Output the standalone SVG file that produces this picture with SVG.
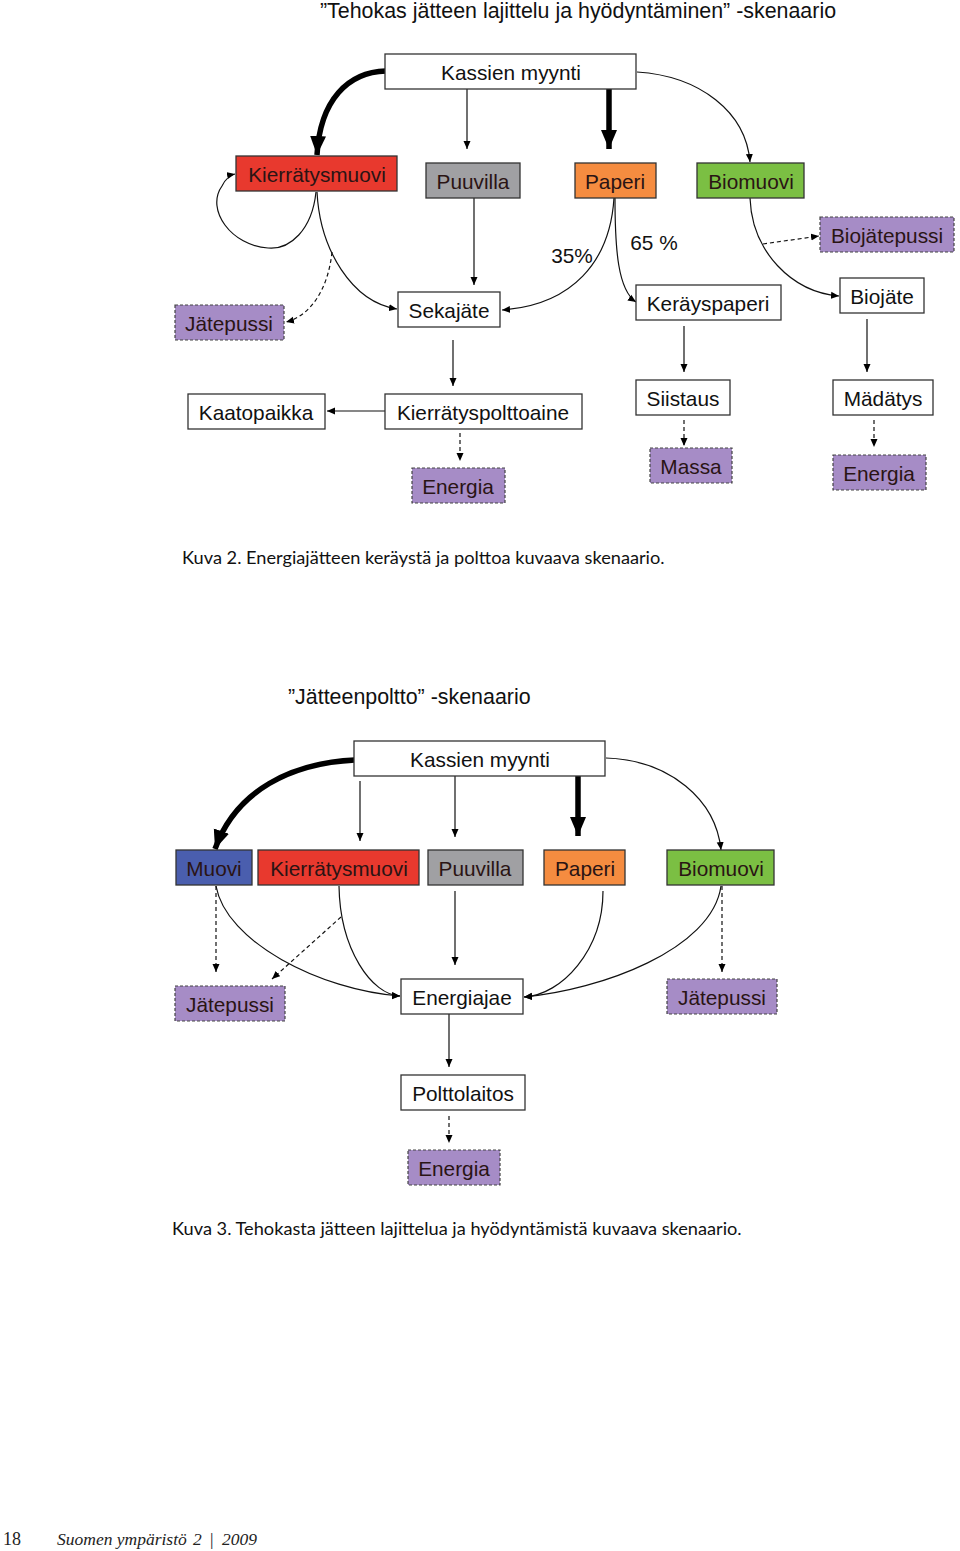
<svg xmlns="http://www.w3.org/2000/svg" width="960" height="1551" viewBox="0 0 960 1551">
<style>
.bg{fill:#ffffff}
.box{stroke:#333;stroke-width:1.3}
.w{fill:#ffffff}
.red{fill:#e8392e}
.gray{fill:#a0a0a3}
.org{fill:#f58c40}
.grn{fill:#7bbf43}
.blu{fill:#4a5eae}
.pur{fill:#a68cc6;stroke:#444;stroke-width:1.2;stroke-dasharray:3,2}
.t{font-family:"Liberation Sans",Arial,sans-serif;font-size:20.8px;fill:#111;text-anchor:middle}
.td{fill:#2a1414}
.ttl{font-family:"Liberation Sans",Arial,sans-serif;font-size:21.4px;fill:#111}
.cap{font-family:Lato,"Open Sans",sans-serif;font-size:18.2px;fill:#111}
.ft{font-family:"Liberation Serif",serif;font-size:18px;fill:#222}
.fi{font-family:"Liberation Serif",serif;font-size:17.5px;font-style:italic;fill:#222}
.c{fill:none;stroke:#111;stroke-width:1.2}
.d{fill:none;stroke:#111;stroke-width:1.2;stroke-dasharray:4,3}
.k{fill:none;stroke:#000;stroke-width:5.5}
</style>
<defs>
<marker id="a" markerUnits="userSpaceOnUse" markerWidth="9" markerHeight="8" refX="8" refY="4" orient="auto"><path d="M0,0.5 L8,4 L0,7.5 z" fill="#000"/></marker>
<marker id="ak" markerUnits="userSpaceOnUse" markerWidth="20" markerHeight="18" refX="19" refY="8" orient="auto"><path d="M0,0 L19,8 L0,16 z" fill="#000"/></marker>
</defs>
<rect class="bg" x="0" y="0" width="960" height="1551"/>

<text class="ttl" x="320" y="18">”Tehokas jätteen lajittelu ja hyödyntäminen” -skenaario</text>

<g id="connectors-top">
<path class="k" d="M386,71 C348,72 320,100 317,155" marker-end="url(#ak)"/>
<path class="c" d="M467,89 L467,149" marker-end="url(#a)"/>
<path class="k" d="M609,89 L609,149" marker-end="url(#ak)"/>
<path class="c" d="M637,72 C700,76 746,112 750,162" marker-end="url(#a)"/>
<path class="c" d="M316,192 C312,230 290,250 268,248 C232,246 205,210 222,186 C226,178 230,175 235,174" marker-end="url(#a)"/>
<path class="c" d="M317,192 C320,250 352,302 397,309" marker-end="url(#a)"/>
<path class="d" d="M332,252 C328,290 310,316 286,322" marker-end="url(#a)"/>
<path class="c" d="M474,198 L474,285" marker-end="url(#a)"/>
<path class="c" d="M614,198 C610,262 572,305 502,310" marker-end="url(#a)"/>
<path class="c" d="M615,198 C615,250 618,290 636,302" marker-end="url(#a)"/>
<path class="c" d="M750,198 C752,252 792,292 839,296" marker-end="url(#a)"/>
<path class="d" d="M763,244 L819,236" marker-end="url(#a)"/>
<path class="c" d="M453,340 L453,386" marker-end="url(#a)"/>
<path class="c" d="M385,411 L327,411" marker-end="url(#a)"/>
<path class="d" d="M460,433 L460,461" marker-end="url(#a)"/>
<path class="c" d="M684,326 L684,372" marker-end="url(#a)"/>
<path class="c" d="M867,319 L867,372" marker-end="url(#a)"/>
<path class="d" d="M684,420 L684,446" marker-end="url(#a)"/>
<path class="d" d="M874,420 L874,447" marker-end="url(#a)"/>
</g>
<text class="t" x="572" y="263">35%</text>
<text class="t" x="654" y="250">65 %</text>

<g id="kassien1"><rect class="box w" x="385" y="54" width="251" height="35"/><text class="t" x="511" y="80">Kassien myynti</text></g>
<g id="kierratysmuovi1"><rect class="box red" x="236" y="156" width="161" height="35"/><text class="t td" x="317" y="182">Kierrätysmuovi</text></g>
<g id="puuvilla1"><rect class="box gray" x="426" y="163" width="94" height="35"/><text class="t td" x="473" y="189">Puuvilla</text></g>
<g id="paperi1"><rect class="box org" x="575" y="163" width="81" height="35"/><text class="t td" x="615" y="189">Paperi</text></g>
<g id="biomuovi1"><rect class="box grn" x="697" y="163" width="107" height="35"/><text class="t td" x="751" y="189">Biomuovi</text></g>
<g id="biojatepussi"><rect class="pur" x="820" y="217" width="134" height="35"/><text class="t td" x="887" y="243">Biojätepussi</text></g>
<g id="jatepussi1"><rect class="pur" x="175" y="305" width="109" height="35"/><text class="t td" x="229" y="331">Jätepussi</text></g>
<g id="sekajate"><rect class="box w" x="398" y="292" width="102" height="35"/><text class="t" x="449" y="318">Sekajäte</text></g>
<g id="kerayspaperi"><rect class="box w" x="636" y="285" width="145" height="35"/><text class="t" x="708" y="311">Keräyspaperi</text></g>
<g id="biojate"><rect class="box w" x="840" y="278" width="84" height="35"/><text class="t" x="882" y="304">Biojäte</text></g>
<g id="kaatopaikka"><rect class="box w" x="188" y="394" width="137" height="35"/><text class="t" x="256" y="420">Kaatopaikka</text></g>
<g id="kierratyspolttoaine"><rect class="box w" x="385" y="394" width="197" height="35"/><text class="t" x="483" y="420">Kierrätyspolttoaine</text></g>
<g id="siistaus"><rect class="box w" x="636" y="380" width="94" height="35"/><text class="t" x="683" y="406">Siistaus</text></g>
<g id="madatys"><rect class="box w" x="833" y="380" width="100" height="35"/><text class="t" x="883" y="406">Mädätys</text></g>
<g id="energia1"><rect class="pur" x="412" y="468" width="93" height="35"/><text class="t td" x="458" y="494">Energia</text></g>
<g id="massa"><rect class="pur" x="650" y="448" width="82" height="35"/><text class="t td" x="691" y="474">Massa</text></g>
<g id="energia2"><rect class="pur" x="833" y="455" width="93" height="35"/><text class="t td" x="879" y="481">Energia</text></g>

<text class="cap" x="182" y="564">Kuva 2. Energiajätteen keräystä ja polttoa kuvaava skenaario.</text>

<text class="ttl" x="288" y="704">”Jätteenpoltto” -skenaario</text>

<g id="connectors-bottom">
<path class="k" d="M355,760 C292,763 236,790 215,849" marker-end="url(#ak)"/>
<path class="c" d="M360,781 L360,841" marker-end="url(#a)"/>
<path class="c" d="M455,776 L455,837" marker-end="url(#a)"/>
<path class="k" d="M578,776 L578,836" marker-end="url(#ak)"/>
<path class="c" d="M606,758 C670,760 716,800 721,850" marker-end="url(#a)"/>
<path class="d" d="M216,886 L216,972" marker-end="url(#a)"/>
<path class="c" d="M216,886 C226,942 320,990 400,996" marker-end="url(#a)"/>
<path class="c" d="M339,886 C340,950 372,995 400,996" marker-end="url(#a)"/>
<path class="d" d="M341,917 L272,979" marker-end="url(#a)"/>
<path class="c" d="M455,891 L455,965" marker-end="url(#a)"/>
<path class="c" d="M603,891 C603,950 562,995 524,997" marker-end="url(#a)"/>
<path class="c" d="M721,886 C712,950 600,990 524,997" marker-end="url(#a)"/>
<path class="d" d="M722,886 L722,972" marker-end="url(#a)"/>
<path class="c" d="M449,1014 L449,1067" marker-end="url(#a)"/>
<path class="d" d="M449,1116 L449,1143" marker-end="url(#a)"/>
</g>

<g id="kassien2"><rect class="box w" x="354" y="741" width="251" height="35"/><text class="t" x="480" y="767">Kassien myynti</text></g>
<g id="muovi"><rect class="box blu" x="176" y="850" width="76" height="35"/><text class="t td" x="214" y="876">Muovi</text></g>
<g id="kierratysmuovi2"><rect class="box red" x="258" y="850" width="161" height="35"/><text class="t td" x="339" y="876">Kierrätysmuovi</text></g>
<g id="puuvilla2"><rect class="box gray" x="428" y="850" width="95" height="35"/><text class="t td" x="475" y="876">Puuvilla</text></g>
<g id="paperi2"><rect class="box org" x="544" y="850" width="81" height="35"/><text class="t td" x="585" y="876">Paperi</text></g>
<g id="biomuovi2"><rect class="box grn" x="667" y="850" width="107" height="35"/><text class="t td" x="721" y="876">Biomuovi</text></g>
<g id="jatepussi2"><rect class="pur" x="175" y="986" width="110" height="35"/><text class="t td" x="230" y="1012">Jätepussi</text></g>
<g id="energiajae"><rect class="box w" x="401" y="979" width="122" height="35"/><text class="t" x="462" y="1005">Energiajae</text></g>
<g id="jatepussi3"><rect class="pur" x="667" y="979" width="110" height="35"/><text class="t td" x="722" y="1005">Jätepussi</text></g>
<g id="polttolaitos"><rect class="box w" x="401" y="1075" width="124" height="35"/><text class="t" x="463" y="1101">Polttolaitos</text></g>
<g id="energia3"><rect class="pur" x="408" y="1150" width="92" height="35"/><text class="t td" x="454" y="1176">Energia</text></g>

<text class="cap" x="172" y="1235">Kuva 3. Tehokasta jätteen lajittelua ja hyödyntämistä kuvaava skenaario.</text>

<text class="ft" x="3" y="1545">18</text>
<text class="fi" x="57" y="1545">Suomen ympäristö</text>
<text class="fi" x="193" y="1545">2</text>
<text class="fi" x="209" y="1545">|</text>
<text class="fi" x="222" y="1545">2009</text>
</svg>
